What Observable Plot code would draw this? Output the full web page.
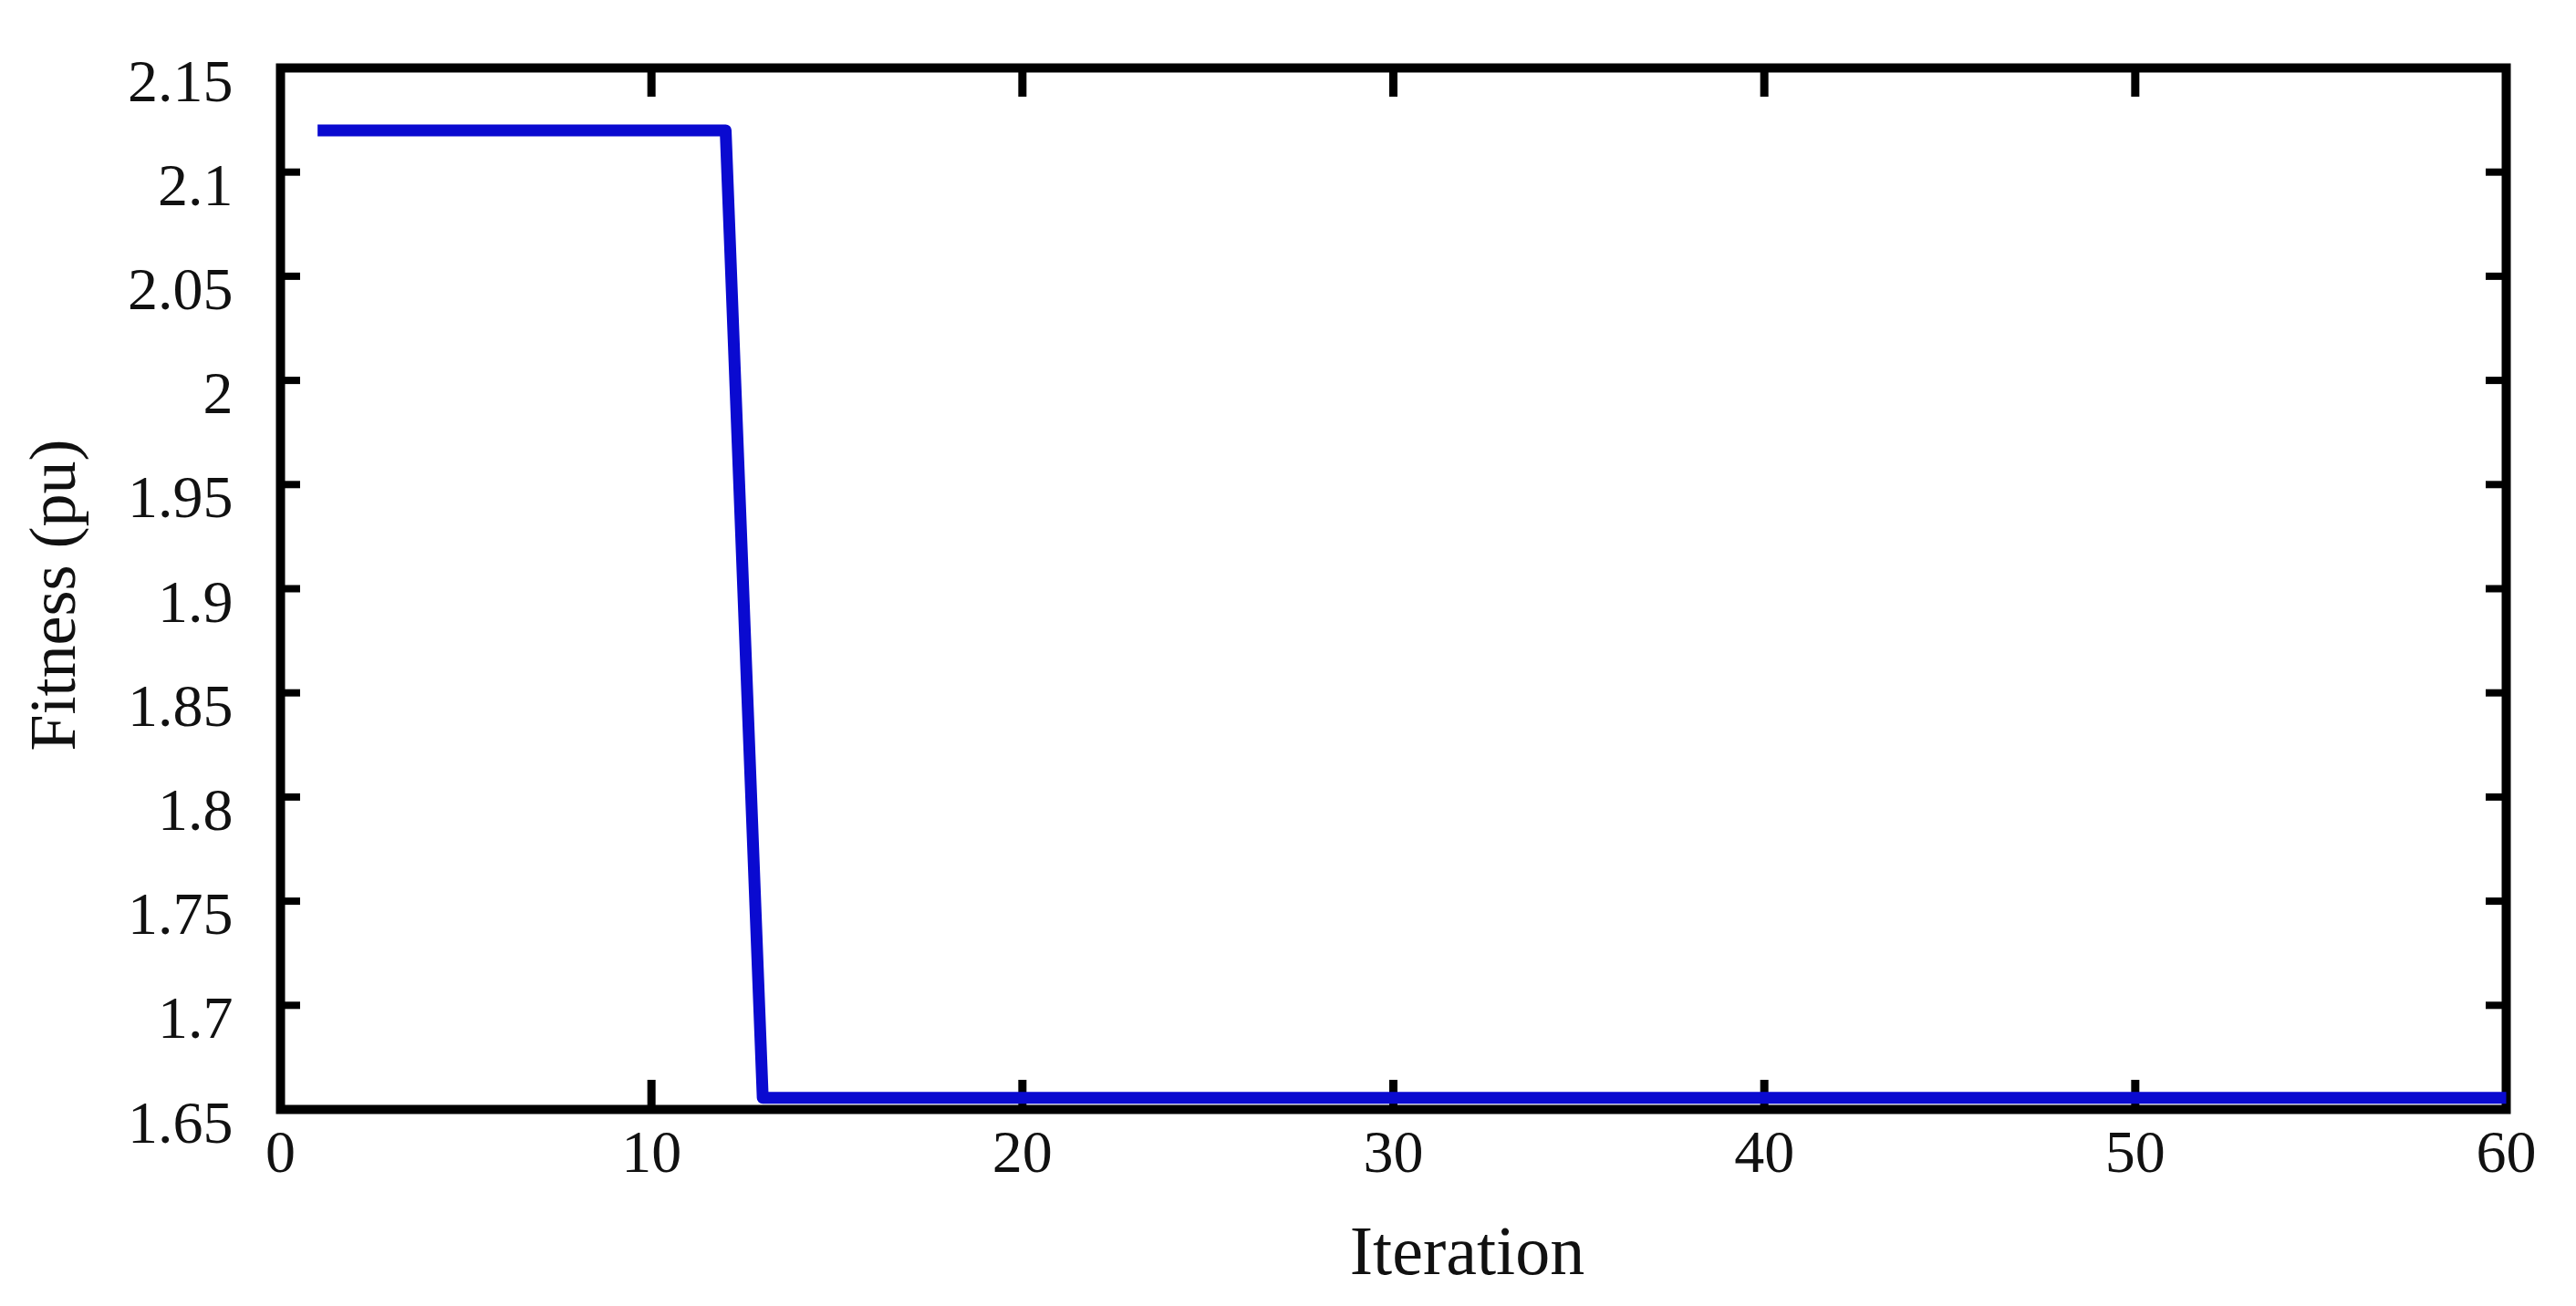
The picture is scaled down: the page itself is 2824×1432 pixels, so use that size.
<!DOCTYPE html>
<html>
<head>
<meta charset="utf-8">
<script src="https://cdn.jsdelivr.net/npm/d3@7"></script>
<script src="https://cdn.jsdelivr.net/npm/@observablehq/plot@0.6"></script>
<style>
  html, body { margin: 0; padding: 0; background: #fff; }
  #chart { width: 2824px; height: 1432px; }
</style>
</head>
<body>
<div id="chart"></div>
<script>
// Data (breakpoints of the convergence curve)
const iterations = [1, 12, 13, 60];
const fitness = [2.12, 2.12, 1.6556, 1.6556];

// Axes
const xTicks = [0, 10, 20, 30, 40, 50, 60];
const xTickLabels = ["0", "10", "20", "30", "40", "50", "60"];
const yTicks = [1.65, 1.7, 1.75, 1.8, 1.85, 1.9, 1.95, 2, 2.05, 2.1, 2.15];
const yTickLabels = ["1.65", "1.7", "1.75", "1.8", "1.85", "1.9", "1.95", "2", "2.05", "2.1", "2.15"];
const xLabel = "Iteration";
const yLabel = "Fitness (pu)";

const data = iterations.map((it, i) => ({iteration: it, fitness: fitness[i]}));

const W = 2824, H = 1432;
const mL = 307, mR = 77, mT = 74, mB = 216;
const fw = W - mL - mR, fh = H - mT - mB;
const font = "'Liberation Serif', 'Times New Roman', serif";

const chart = Plot.plot({
  width: W,
  height: H,
  marginLeft: mL,
  marginRight: mR,
  marginTop: mT,
  marginBottom: mB,
  style: {fontFamily: font, fontSize: "66px", color: "#111", background: "#fff"},
  x: {domain: [0, 60]},
  y: {domain: [1.65, 2.15]},
  marks: [
    Plot.axisX({ticks: xTicks, tickFormat: (d) => xTickLabels[xTicks.indexOf(d)], tickSize: 0, tickPadding: 22, label: null, fontSize: 66}),
    Plot.axisY({ticks: yTicks, tickFormat: (d) => yTickLabels[yTicks.indexOf(d)], tickSize: 0, tickPadding: 52, dy: 15, label: null, fontSize: 66}),
    // inward ticks on all four sides
    Plot.tickY(yTicks, {y: d => d, stroke: "black", strokeWidth: 8, insetRight: fw - 22}),
    Plot.tickY(yTicks, {y: d => d, stroke: "black", strokeWidth: 8, insetLeft: fw - 22}),
    Plot.tickX(xTicks, {x: d => d, stroke: "black", strokeWidth: 9, insetTop: fh - 32}),
    Plot.tickX(xTicks, {x: d => d, stroke: "black", strokeWidth: 9, insetBottom: fh - 32}),
    Plot.frame({stroke: "black", strokeWidth: 10}),
    Plot.line(data, {x: "iteration", y: "fitness", stroke: "#0a0ad0", strokeWidth: 13, strokeLinejoin: "round", strokeLinecap: "butt"}),
    Plot.text([xLabel], {frameAnchor: "bottom", text: d => d, dx: 81, dy: 156, lineAnchor: "middle", textAnchor: "middle", fontSize: 76, fill: "#111"}),
    Plot.text([yLabel], {frameAnchor: "left", text: d => d, rotate: -90, dx: -249, dy: 7, lineAnchor: "middle", textAnchor: "middle", fontSize: 72, fill: "#111"})
  ]
});
document.getElementById("chart").appendChild(chart);
</script>
</body>
</html>
